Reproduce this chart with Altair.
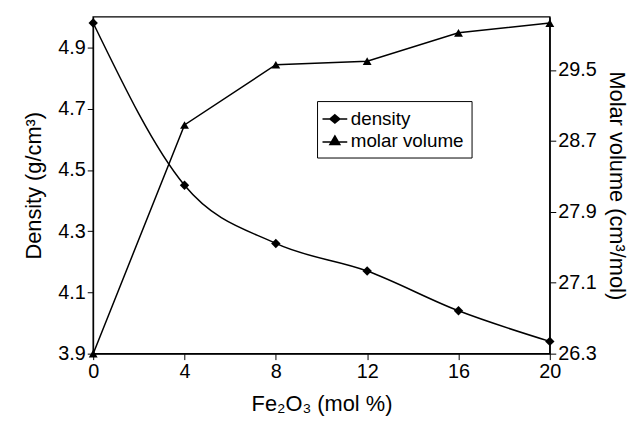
import altair as alt
import pandas as pd

fe2o3 = [0, 4, 8, 12, 16, 20]
density = [4.98, 4.45, 4.26, 4.17, 4.04, 3.94]
molar_volume = [26.30, 28.88, 29.56, 29.60, 29.92, 30.03]
series_names = ["density", "molar volume"]

df_d = pd.DataFrame({"x": fe2o3, "y": density, "series": series_names[0]})
df_m = pd.DataFrame({"x": fe2o3, "y": molar_volume, "series": series_names[1]})

FONT = "Liberation Sans"
LBL = 20
TTL = 22


def solid_path(pts, center, line_y):
    # line segment plus concentric outlines so the stroked glyph looks filled
    cx, cy = center
    parts = [f"M-1.25,{line_y}H1.25"]
    for f in (1.0, 0.8, 0.6, 0.4, 0.2, 0.05):
        q = [(cx + (px - cx) * f, cy + (py - cy) * f) for px, py in pts]
        parts.append("M" + "L".join(f"{a:.3f},{b:.3f}" for a, b in q) + "Z")
    return "".join(parts)


diamond_path = solid_path([(0, -0.42), (0.5, 0), (0, 0.42), (-0.5, 0)], (0, 0), 0)
triangle_path = solid_path([(0, -0.48), (0.5, 0.38), (-0.5, 0.38)], (0, 0.09), 0.12)

common = dict(grid=False, labelFontSize=LBL, titleFontSize=TTL, labelFont=FONT, titleFont=FONT,
              tickColor="black", domainColor="black", labelColor="black", titleColor="black",
              tickSize=6, titleFontWeight="normal", labelPadding=2, labelFlush=False)

xenc = alt.X("x:Q", scale=alt.Scale(domain=[0, 20], nice=False),
             axis=alt.Axis(values=fe2o3, title="Fe₂O₃ (mol %)", titlePadding=12, **common))

shape_scale = alt.Scale(domain=series_names, range=[diamond_path, triangle_path])

left_scale = alt.Scale(domain=[3.9, 5.0], nice=False, zero=False)
right_scale = alt.Scale(domain=[26.3, 30.1], nice=False, zero=False)

left_axis = alt.Axis(values=[3.9, 4.1, 4.3, 4.5, 4.7, 4.9], format=".1f", title="Density (g/cm³)",
                     titlePadding=12, **common)
right_axis = alt.Axis(values=[26.3, 27.1, 27.9, 28.7, 29.5], format=".1f", orient="right",
                      title="Molar volume (cm³/mol)", titlePadding=8, **common)

legend = alt.Legend(title=None, orient="none", legendX=226, legendY=85,
                    strokeColor="black", padding=7, labelFontSize=19, labelFont=FONT,
                    labelColor="black", symbolSize=400,
                    symbolStrokeColor="black", symbolStrokeWidth=1.5, rowPadding=1,
                    symbolOpacity=1, cornerRadius=0, fillColor="white", labelOffset=5)

d_line = alt.Chart(df_d).mark_line(color="black", strokeWidth=1.5, interpolate="monotone").encode(
    x=xenc, y=alt.Y("y:Q", scale=left_scale, axis=left_axis))
d_pts = alt.Chart(df_d).mark_point(filled=True, color="black", size=90, opacity=1, shape="diamond").encode(
    x="x:Q", y=alt.Y("y:Q", scale=left_scale))

m_line = alt.Chart(df_m).mark_line(color="black", strokeWidth=1.5).encode(
    x="x:Q", y=alt.Y("y:Q", scale=right_scale, axis=right_axis))
m_pts = alt.Chart(df_m).mark_point(filled=True, color="black", size=80, opacity=1, shape="triangle-up").encode(
    x="x:Q", y=alt.Y("y:Q", scale=right_scale))

# invisible points carrying the shape legend
leg_df = pd.concat([df_d.head(1), df_m.head(1)])
leg = alt.Chart(leg_df).mark_point(opacity=0, color="black").encode(
    x="x:Q", y=alt.Y("y:Q", scale=left_scale),
    shape=alt.Shape("series:N", scale=shape_scale, legend=legend))

left = alt.layer(d_line, d_pts, leg)
right = alt.layer(m_line, m_pts)

chart = alt.layer(left, right).resolve_scale(y="independent").properties(
    width=461, height=340,
    autosize=alt.AutoSizeParams(type="none"),
    padding={"left": 86, "top": 7, "right": 86, "bottom": 64},
    background="white",
).configure_view(stroke="black", strokeWidth=1.5)

chart.save("out.html", embed_options={"renderer": "svg", "actions": False})
